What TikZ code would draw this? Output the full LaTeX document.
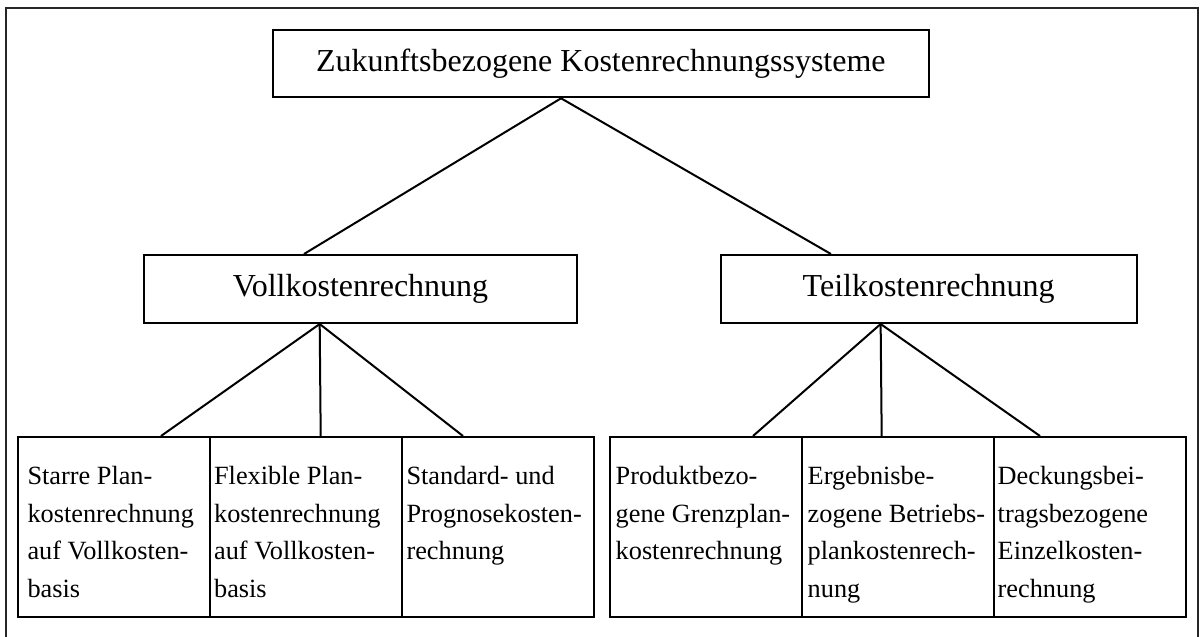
\documentclass[tikz,border=0pt]{standalone}
\usepackage{fontspec}
\setmainfont{Liberation Serif}
\begin{document}
\begin{tikzpicture}[x=0.5pt,y=-0.5pt, line width=1pt,
  bigbox/.style={draw, inner sep=0pt, font=\fontsize{16pt}{19pt}\selectfont},
  cellbox/.style={draw, inner sep=0pt, minimum width=96pt, minimum height=90pt, anchor=north west},
  celltext/.style={inner sep=0pt, anchor=base west, text width=100pt, align=flush left, font=\fontsize{13.15pt}{18.8pt}\selectfont},
  frame/.style={draw=black!85, line width=1pt},
  conn/.style={draw, line width=1pt}]
\useasboundingbox (0,0) rectangle (1201,637);
\draw[frame] (5.5,8) rectangle (1198,660);

\node[bigbox, minimum width=328.2pt, minimum height=33.65pt] (top) at (600.85,63.65) {Zukunftsbezogene Kostenrechnungssysteme};
\node[bigbox, minimum width=216.5pt, minimum height=34pt] (voll) at (360.5,289) {Vollkostenrechnung};
\node[bigbox, minimum width=208pt, minimum height=34pt] (teil) at (928.65,289) {Teilkostenrechnung};

\node[cellbox] (a1) at (16.5,436) {};
\node[cellbox] (a2) at (208.5,436) {};
\node[cellbox] (a3) at (400.5,436) {};
\node[cellbox] (b1) at (608.7,436) {};
\node[cellbox] (b2) at (800.7,436) {};
\node[cellbox] (b3) at (992.7,436) {};

\node[celltext] (ta1) at ([shift={(5pt,-24.2pt)}]a1.north west) {Starre Plan-\\kostenrechnung\\auf Vollkosten-\\basis};
\node[celltext] (ta2) at ([shift={(2.3pt,-24.2pt)}]a2.north west) {Flexible Plan-\\kostenrechnung\\auf Vollkosten-\\basis};
\node[celltext] (ta3) at ([shift={(2.5pt,-24.2pt)}]a3.north west) {Standard- und\\Prognosekosten-\\rechnung};
\node[celltext] (tb1) at ([shift={(3pt,-24.2pt)}]b1.north west) {Produktbezo-\\gene Grenzplan-\\kostenrechnung};
\node[celltext] (tb2) at ([shift={(3pt,-24.2pt)}]b2.north west) {Ergebnisbe-\\zogene Betriebs-\\plankostenrech-\\nung};
\node[celltext] (tb3) at ([shift={(2pt,-24.2pt)}]b3.north west) {Deckungsbei-\\tragsbezogene\\Einzelkosten-\\rechnung};

\draw[conn] ([xshift=-19.9pt]top.south) -- ([xshift=80.5pt]voll.north west);
\draw[conn] ([xshift=-19.9pt]top.south) -- ([xshift=55.65pt]teil.north west);

\draw[conn] ([xshift=88.35pt]voll.south west) -- ([xshift=72.25pt]a1.north west);
\draw[conn] ([xshift=88.35pt]voll.south west) -- ([xshift=56.1pt]a2.north west);
\draw[conn] ([xshift=88.35pt]voll.south west) -- ([xshift=31.25pt]a3.north west);

\draw[conn] ([xshift=80.5pt]teil.south west) -- ([xshift=72.15pt]b1.north west);
\draw[conn] ([xshift=80.5pt]teil.south west) -- ([xshift=40.5pt]b2.north west);
\draw[conn] ([xshift=80.5pt]teil.south west) -- ([xshift=23.65pt]b3.north west);
\end{tikzpicture}
\end{document}
